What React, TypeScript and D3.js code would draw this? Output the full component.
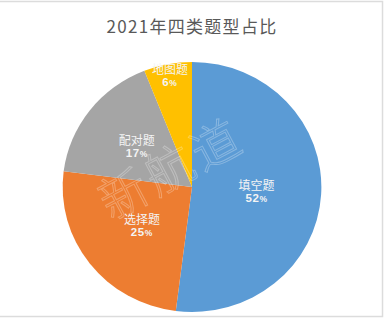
import React from 'react';
import * as d3 from 'd3';

const categories = ['填空题', '选择题', '配对题', '地图题'];
const values = [52, 25, 17, 6];
const colors = ['#5B9BD5', '#ED7D31', '#A5A5A5', '#FFC000'];
const labelRadiusFactor = [0.5, 0.49, 0.54, 0.91];
const title = '2021年四类题型占比';
const watermark = '新航道';

const W = 385;
const H = 318;
const cx = 192;
const cy = 187;
const R = 125;
const sx = 1.035;

export default function App() {
  const pie = d3.pie<number>().sort(null).value((d) => d).startAngle(0).endAngle(2 * Math.PI);
  const arcs = pie(values);
  const arc = d3.arc<d3.PieArcDatum<number>>().innerRadius(0).outerRadius(R);
  const total = d3.sum(values);
  return (
    <svg width={W} height={H} style={{ position: 'absolute', left: 0, top: 0 }} fontFamily="'Noto Sans CJK SC', sans-serif">
      <rect x={0} y={0} width={W} height={H} fill="#fff" />
      <rect x={-1} y={1.5} width={W - 1.5} height={H - 3} fill="none" stroke="#dcdcdc" strokeWidth={1.5} />
      <text x={cx} y={33} textAnchor="middle" fontSize={17} letterSpacing={1.3} fill="#595959" fontWeight={400}>{title}</text>
      <g transform={`translate(${cx},${cy}) scale(${sx},1)`}>
        {arcs.map((a, i) => (
          <path key={i} d={arc(a) || ''} fill={colors[i]} />
        ))}
      </g>
      <g transform={`translate(172,170) rotate(-28)`} fill="none" stroke="#ffffff" strokeOpacity={0.28} strokeWidth={1} fontSize={48} fontWeight={300}>
        <text x={0} y={16} textAnchor="middle" letterSpacing={4}>{watermark}</text>
      </g>
      {arcs.map((a, i) => {
        const mid = (a.startAngle + a.endAngle) / 2;
        const r = R * labelRadiusFactor[i];
        const x = cx + Math.sin(mid) * r * sx;
        const y = cy - Math.cos(mid) * r;
        const pct = Math.round((values[i] / total) * 100);
        return (
          <g key={i} fill="#f4f4f4">
            <text x={x} y={y - 1} textAnchor="middle" fontSize={12}>{categories[i]}</text>
            <text x={x} y={y + 11} textAnchor="middle" fontSize={11.5} fontWeight={700} fontFamily="'Liberation Sans', sans-serif" letterSpacing={0.6}>
              {pct}<tspan fontSize={8.5}>%</tspan>
            </text>
          </g>
        );
      })}
    </svg>
  );
}
